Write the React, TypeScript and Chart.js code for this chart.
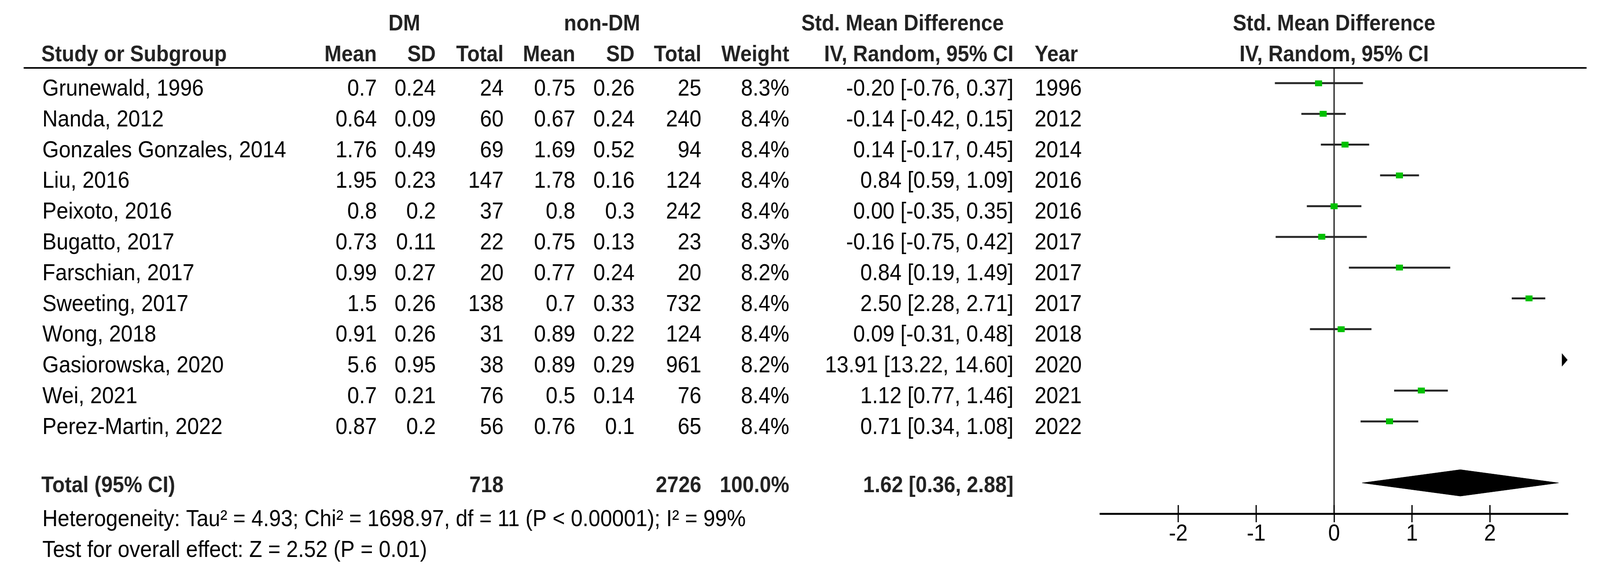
import React, { useEffect, useRef } from 'react';
import { Chart, registerables } from 'chart.js';

Chart.register(...registerables);

// ---------- data ----------
const studies = [
  'Grunewald, 1996', 'Nanda, 2012', 'Gonzales Gonzales, 2014', 'Liu, 2016',
  'Peixoto, 2016', 'Bugatto, 2017', 'Farschian, 2017', 'Sweeting, 2017',
  'Wong, 2018', 'Gasiorowska, 2020', 'Wei, 2021', 'Perez-Martin, 2022',
];
const years = ['1996', '2012', '2014', '2016', '2016', '2017', '2017', '2017', '2018', '2020', '2021', '2022'];
const dmMean = [0.7, 0.64, 1.76, 1.95, 0.8, 0.73, 0.99, 1.5, 0.91, 5.6, 0.7, 0.87];
const dmSD = [0.24, 0.09, 0.49, 0.23, 0.2, 0.11, 0.27, 0.26, 0.26, 0.95, 0.21, 0.2];
const dmTotal = [24, 60, 69, 147, 37, 22, 20, 138, 31, 38, 76, 56];
const nonMean = [0.75, 0.67, 1.69, 1.78, 0.8, 0.75, 0.77, 0.7, 0.89, 0.89, 0.5, 0.76];
const nonSD = [0.26, 0.24, 0.52, 0.16, 0.3, 0.13, 0.24, 0.33, 0.22, 0.29, 0.14, 0.1];
const nonTotal = [25, 240, 94, 124, 242, 23, 20, 732, 124, 961, 76, 65];
const weights = [8.3, 8.4, 8.4, 8.4, 8.4, 8.3, 8.2, 8.4, 8.4, 8.2, 8.4, 8.4];
const smd = [-0.2, -0.14, 0.14, 0.84, 0.0, -0.16, 0.84, 2.5, 0.09, 13.91, 1.12, 0.71];
const ciLow = [-0.76, -0.42, -0.17, 0.59, -0.35, -0.75, 0.19, 2.28, -0.31, 13.22, 0.77, 0.34];
const ciHigh = [0.37, 0.15, 0.45, 1.09, 0.35, 0.42, 1.49, 2.71, 0.48, 14.6, 1.46, 1.08];

const totalDM = 718;
const totalNonDM = 2726;
const totalWeight = 100.0;
const totalSMD = 1.62;
const totalLow = 0.36;
const totalHigh = 2.88;

const heterogeneityText = 'Heterogeneity: Tau\u00B2 = 4.93; Chi\u00B2 = 1698.97, df = 11 (P < 0.00001); I\u00B2 = 99%';
const overallText = 'Test for overall effect: Z = 2.52 (P = 0.01)';

const xTickValues = [-2, -1, 0, 1, 2];
const xMin = -3;
const xMax = 3;

// ---------- layout / style ----------
const W = 4531;
const H = 1486;
const FONT = '"Liberation Sans", Arial, sans-serif';
const REG = `60px ${FONT}`;
const BOLD = `bold 58px ${FONT}`;
const HEAD_COLOR = '#222';
const GREEN = '#00c000';
const LINE_COLOR = '#262626';

const totalRow = studies.length + 1; // blank row, then total
const hetRow = totalRow + 1;
const testRow = totalRow + 2;

function makeRect(): HTMLCanvasElement {
  const c = document.createElement('canvas');
  c.width = 20;
  c.height = 15;
  const g = c.getContext('2d')!;
  g.fillStyle = GREEN;
  g.fillRect(0, 0, 20, 15);
  return c;
}

function makeArrow(): HTMLCanvasElement {
  const c = document.createElement('canvas');
  c.width = 16;
  c.height = 34;
  const g = c.getContext('2d')!;
  g.fillStyle = '#000';
  g.beginPath();
  g.moveTo(0, 0);
  g.lineTo(16, 17);
  g.lineTo(0, 34);
  g.closePath();
  g.fill();
  return c;
}

const tablePlugin = {
  id: 'forestTable',
  afterDraw(chart: any) {
    const ctx: CanvasRenderingContext2D = chart.ctx;
    const ys = chart.scales.y;
    const xs = chart.scales.x;
    const rowY = (i: number) => ys.getPixelForValue(i);
    const zeroX = xs.getPixelForValue(0);

    ctx.save();
    // header rule
    ctx.fillStyle = '#000';
    ctx.fillRect(67, 172, 4493 - 67, 4);

    const txt = (s: string, x: number, y: number, align: CanvasTextAlign, font: string, color: string) => {
      ctx.font = font;
      ctx.fillStyle = color;
      ctx.textAlign = align;
      ctx.textBaseline = 'alphabetic';
      ctx.fillText(s, x, y);
    };

    // header row 1
    const h1 = 78;
    txt('DM', 1145, h1, 'center', BOLD, HEAD_COLOR);
    txt('non-DM', 1705, h1, 'center', BOLD, HEAD_COLOR);
    txt('Std. Mean Difference', 2556, h1, 'center', BOLD, HEAD_COLOR);
    txt('Std. Mean Difference', zeroX, h1, 'center', BOLD, HEAD_COLOR);
    // header row 2
    const h2 = 157;
    txt('Study or Subgroup', 117, h2, 'left', BOLD, HEAD_COLOR);
    txt('Mean', 1067, h2, 'right', BOLD, HEAD_COLOR);
    txt('SD', 1234, h2, 'right', BOLD, HEAD_COLOR);
    txt('Total', 1426, h2, 'right', BOLD, HEAD_COLOR);
    txt('Mean', 1629, h2, 'right', BOLD, HEAD_COLOR);
    txt('SD', 1797, h2, 'right', BOLD, HEAD_COLOR);
    txt('Total', 1986, h2, 'right', BOLD, HEAD_COLOR);
    txt('Weight', 2235, h2, 'right', BOLD, HEAD_COLOR);
    txt('IV, Random, 95% CI', 2870, h2, 'right', BOLD, HEAD_COLOR);
    txt('Year', 2930, h2, 'left', BOLD, HEAD_COLOR);
    txt('IV, Random, 95% CI', zeroX, h2, 'center', BOLD, HEAD_COLOR);

    // study rows
    studies.forEach((name, i) => {
      const y = rowY(i) + 32;
      txt(name, 120, y, 'left', REG, '#000');
      txt(String(dmMean[i]), 1067, y, 'right', REG, '#000');
      txt(String(dmSD[i]), 1234, y, 'right', REG, '#000');
      txt(String(dmTotal[i]), 1426, y, 'right', REG, '#000');
      txt(String(nonMean[i]), 1629, y, 'right', REG, '#000');
      txt(String(nonSD[i]), 1797, y, 'right', REG, '#000');
      txt(String(nonTotal[i]), 1986, y, 'right', REG, '#000');
      txt(weights[i].toFixed(1) + '%', 2235, y, 'right', REG, '#000');
      txt(`${smd[i].toFixed(2)} [${ciLow[i].toFixed(2)}, ${ciHigh[i].toFixed(2)}]`, 2870, y, 'right', REG, '#000');
      txt(years[i], 2930, y, 'left', REG, '#000');
    });

    // total row
    const ty = rowY(totalRow) + 24;
    txt('Total (95% CI)', 117, ty, 'left', BOLD, HEAD_COLOR);
    txt(String(totalDM), 1426, ty, 'right', BOLD, HEAD_COLOR);
    txt(String(totalNonDM), 1986, ty, 'right', BOLD, HEAD_COLOR);
    txt(totalWeight.toFixed(1) + '%', 2235, ty, 'right', BOLD, HEAD_COLOR);
    txt(`${totalSMD.toFixed(2)} [${totalLow.toFixed(2)}, ${totalHigh.toFixed(2)}]`, 2870, ty, 'right', BOLD, HEAD_COLOR);

    txt(heterogeneityText, 120, rowY(hetRow) + 32, 'left', REG, '#000');
    txt(overallText, 120, rowY(testRow) + 32, 'left', REG, '#000');

    // upper halves of axis ticks
    const axisY = chart.chartArea.bottom;
    ctx.strokeStyle = '#000';
    ctx.lineWidth = 3.5;
    xTickValues.forEach((v) => {
      const px = xs.getPixelForValue(v);
      ctx.beginPath();
      ctx.moveTo(px, axisY - 22);
      ctx.lineTo(px, axisY);
      ctx.stroke();
    });
    ctx.restore();
  },
};

export default function App() {
  const ref = useRef<HTMLCanvasElement | null>(null);
  const vw = typeof window !== 'undefined' ? window.innerWidth : W;
  const vh = typeof window !== 'undefined' ? window.innerHeight : H;

  useEffect(() => {
    if (!ref.current) return;
    const rectImg = makeRect();
    const arrowImg = makeArrow();

    const inRange = studies.map((_, i) => ciHigh[i] >= xMin && ciLow[i] <= xMax);

    const ciSets = studies
      .map((_, i) => i)
      .filter((i) => inRange[i])
      .map((i) => ({
        type: 'scatter' as const,
        showLine: true,
        data: [
          { x: Math.max(ciLow[i], xMin), y: i },
          { x: Math.min(ciHigh[i], xMax), y: i },
        ],
        borderColor: LINE_COLOR,
        borderWidth: 5,
        pointRadius: 0,
        order: 3,
      }));

    const arrowData = studies
      .map((_, i) => i)
      .filter((i) => ciLow[i] > xMax)
      .map((i) => ({ x: xMax - 0.04, y: i }));

    const chart = new Chart(ref.current, {
      type: 'scatter',
      data: {
        datasets: [
          {
            type: 'scatter',
            data: studies.map((_, i) => i).filter((i) => inRange[i]).map((i) => ({ x: smd[i], y: i })),
            pointStyle: rectImg as any,
            pointRadius: 8,
            order: 0,
          },
          {
            type: 'scatter',
            data: arrowData,
            pointStyle: arrowImg as any,
            pointRadius: 8,
            clip: false as any,
            order: 0,
          },
          {
            type: 'scatter',
            showLine: true,
            data: [
              { x: totalLow, y: totalRow },
              { x: totalSMD, y: totalRow - 0.43 },
              { x: totalHigh, y: totalRow },
              { x: totalSMD, y: totalRow + 0.43 },
              { x: totalLow, y: totalRow },
            ],
            borderColor: '#000',
            backgroundColor: '#000',
            borderWidth: 1,
            pointRadius: 0,
            fill: 'shape' as any,
            order: 1,
          },
          ...ciSets,
          {
            type: 'scatter',
            showLine: true,
            data: [
              { x: 0, y: -0.508 },
              { x: 0, y: 14.0 },
            ],
            borderColor: '#333',
            borderWidth: 4,
            pointRadius: 0,
            order: 4,
          },
        ] as any,
      },
      options: {
        animation: false,
        responsive: false,
        devicePixelRatio: 1,
        layout: { padding: { left: 3116, right: 91, top: 173, bottom: 70 } },
        plugins: {
          legend: { display: false },
          tooltip: { enabled: false },
        },
        scales: {
          x: {
            type: 'linear',
            min: xMin,
            max: xMax,
            afterBuildTicks: (s: any) => {
              s.ticks = xTickValues.map((v) => ({ value: v }));
            },
            afterFit: (s: any) => {
              s.height = 100;
            },
            ticks: {
              autoSkip: false,
              maxRotation: 0,
              padding: -6,
              color: '#000',
              font: { family: '"Liberation Sans", Arial, sans-serif', size: 60 },
              callback: (v: any) => String(v),
            },
            grid: {
              drawOnChartArea: false,
              drawTicks: true,
              tickLength: 22,
              tickWidth: 3.5,
              tickColor: '#000',
              color: '#000',
            },
            border: { display: true, color: '#000', width: 5 },
          },
          y: {
            type: 'linear',
            display: false,
            reverse: true,
            min: -0.508,
            max: 14.0,
          },
        },
      } as any,
      plugins: [tablePlugin],
    });

    return () => chart.destroy();
  }, []);

  return (
    <canvas
      ref={ref}
      width={W}
      height={H}
      style={{ position: 'fixed', left: 0, top: 0, width: `${vw}px`, height: `${vh}px`, background: '#fff' }}
    />
  );
}
